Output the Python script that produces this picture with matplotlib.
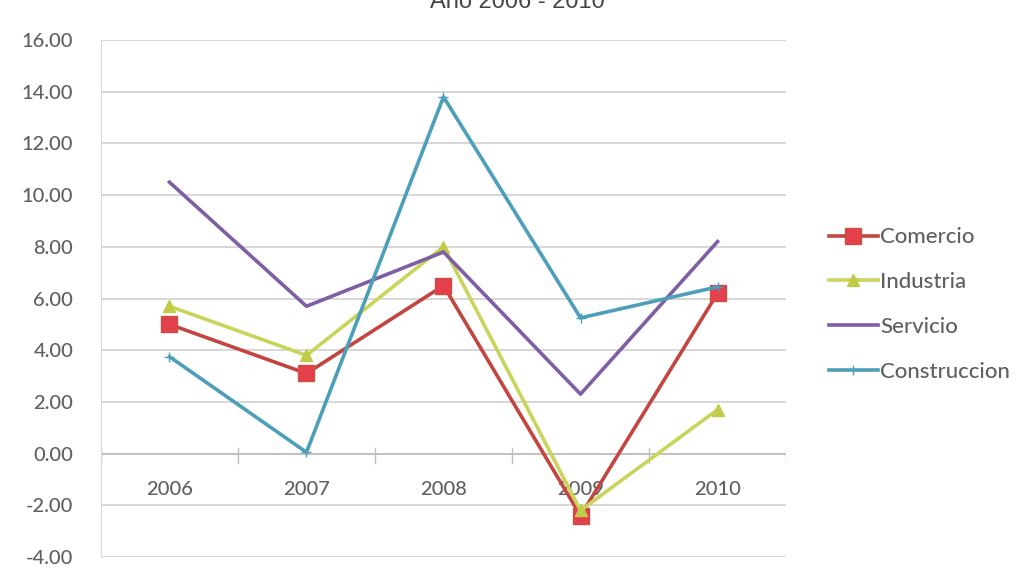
import matplotlib
matplotlib.use("Agg")
import matplotlib.pyplot as plt

years = ["2006", "2007", "2008", "2009", "2010"]
comercio = [5.0, 3.1, 6.5, -2.4, 6.2]
industria = [5.7, 3.8, 8.0, -2.2, 1.7]
servicio = [10.5, 5.7, 7.8, 2.3, 8.2]
construccion = [3.75, 0.05, 13.8, 5.25, 6.45]
y_ticks = [-4, -2, 0, 2, 4, 6, 8, 10, 12, 14, 16]

plt.rcParams['font.family'] = ['Lato', 'DejaVu Sans']
txt = "#606060"

fig = plt.figure(figsize=(10.24, 5.86), dpi=100)
ax = fig.add_axes([0.0986, 0.0495, 0.6690, 0.8822])

x = list(range(len(years)))
series = [
    ("Comercio", comercio, dict(color="#c4453f", marker="s", markersize=11,
                                markerfacecolor="#e4404c", markeredgecolor="#c85040")),
    ("Industria", industria, dict(color="#c8d45a", marker="^", markersize=9,
                                  markerfacecolor="#c0cc48", markeredgecolor="#c0cc48")),
    ("Servicio", servicio, dict(color="#7e5ea4")),
    ("Construccion", construccion, dict(color="#4b9fba", marker="+", markersize=7)),
]
handles = []
for name, vals, style in series:
    ln, = ax.plot(x, vals, linewidth=2.6, label=name, zorder=3, **style)
    handles.append(ln)

ax.set_xlim(-0.5, len(years) - 0.5)
ax.set_ylim(-4, 16)
ax.set_yticks(y_ticks)
ax.set_yticklabels([f"{v:.2f}" for v in y_ticks], color=txt, fontsize=14.5,
                   fontweight="medium")
ax.tick_params(axis="y", length=0, pad=20)
ax.set_xticks([])
ax.grid(axis="y", color="#cfcfcf", linewidth=1.2, zorder=0)
for s in ["top", "right", "bottom"]:
    ax.spines[s].set_visible(False)
ax.spines["left"].set_color("#d8d8d8")

# horizontal axis at zero with category labels underneath
ax.axhline(0, color="#bdbdbd", linewidth=1.2, zorder=2)
for b in range(len(years) + 1):
    ax.plot([b - 0.5, b - 0.5], [0.2, -0.35], color="#bdbdbd", linewidth=1, zorder=2)
for i, yr in enumerate(years):
    ax.text(i, -1.4, yr, ha="center", va="center", color=txt, fontsize=14.5,
            fontweight="medium", zorder=1)

leg = fig.legend(handles=handles, loc="center left", bbox_to_anchor=(0.790, 0.48),
                 frameon=False, handlelength=2.2, handletextpad=0.1,
                 labelspacing=1.12, labelcolor=txt, prop={"size": 16, "weight": "medium"})

fig.text(0.505, 1 - 8 / 586, "Año 2006 - 2010", ha="center", va="baseline",
         fontsize=17, color="#444444", family=["Liberation Sans", "DejaVu Sans"])

fig.savefig("out.png", dpi=100, facecolor="white")
